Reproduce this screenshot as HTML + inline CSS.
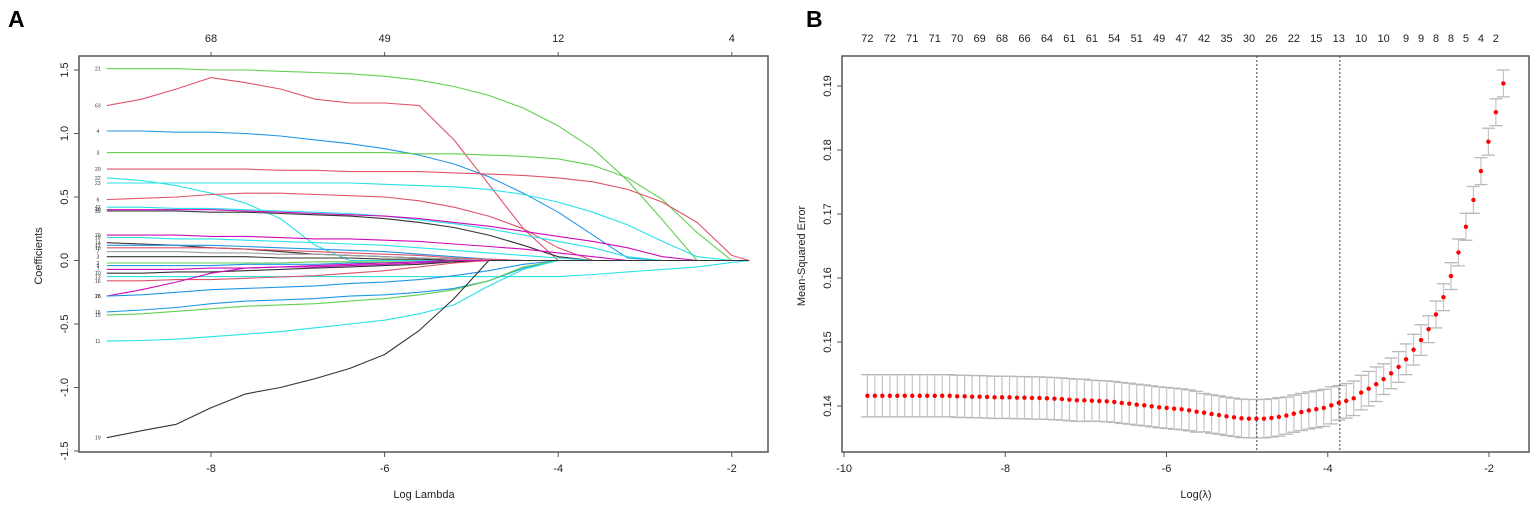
<!DOCTYPE html>
<html><head><meta charset="utf-8">
<style>
html,body{margin:0;padding:0;background:#fff;}
svg{display:block;font-family:"Liberation Sans",Arial,sans-serif;}
</style></head>
<body>
<svg id="fig" width="1535" height="507" viewBox="0 0 1535 507" xmlns="http://www.w3.org/2000/svg">
<text x="8" y="27" font-size="23" font-weight="bold">A</text>
<text x="806" y="27" font-size="23" font-weight="bold">B</text>
<g id="pa"></g>
<g id="pb"></g>
</svg>
<script>
// ===== Panel A data =====
const gridA = [-9.2,-8.8,-8.4,-8,-7.6,-7.2,-6.8,-6.4,-6,-5.6,-5.2,-4.8,-4.4,-4,-3.6,-3.2,-2.8,-2.4,-2,-1.8];
const colorsA = ['#61D04F','#DF536B','#2297E6','#61D04F','#DF536B','#28E2E5','#28E2E5','#DF536B','#28E2E5','#333333','#CD0BBC','#CD0BBC','#28E2E5','#333333','#2297E6','#DF536B','#9E9E9E','#333333','#61D04F','#2297E6','#CD0BBC','#333333','#28E2E5','#DF536B','#CD0BBC','#2297E6','#2297E6','#61D04F','#28E2E5','#333333'];
const labelsA = ['21','63','4','3','20','23','22','6','42','39','40','20','18','14','12','10','7','3','2','4','7','10','13','16','16','28','16','15','11','19'];
const s01=[1.51,1.51,1.51,1.50,1.50,1.49,1.48,1.47,1.45,1.42,1.37,1.30,1.20,1.06,0.88,0.63,0.32,0,0,0];
const s02=[1.22,1.27,1.35,1.44,1.40,1.35,1.27,1.24,1.24,1.22,0.95,0.60,0.25,0,0,0,0,0,0,0];
const s03=[1.02,1.02,1.01,1.01,1.00,0.98,0.95,0.92,0.88,0.83,0.76,0.66,0.53,0.38,0.20,0.02,0,0,0,0];
const s04=[0.85,0.85,0.85,0.85,0.85,0.85,0.85,0.85,0.85,0.84,0.84,0.83,0.82,0.80,0.75,0.65,0.48,0.22,0,0];
const s05=[0.72,0.72,0.72,0.72,0.72,0.71,0.71,0.70,0.70,0.70,0.69,0.68,0.67,0.65,0.62,0.56,0.46,0.30,0.04,0];
const s06=[0.61,0.61,0.61,0.61,0.61,0.61,0.61,0.61,0.60,0.59,0.58,0.56,0.52,0.46,0.38,0.28,0.15,0.03,0,0];
const s07=[0.65,0.63,0.59,0.53,0.45,0.33,0.12,0,0,0,0,0,0,0,0,0,0,0,0,0];
const s08=[0.48,0.49,0.50,0.52,0.53,0.53,0.52,0.51,0.50,0.47,0.42,0.35,0.25,0.10,0,0,0,0,0,0];
const s09=[0.42,0.42,0.41,0.41,0.40,0.39,0.38,0.37,0.35,0.32,0.29,0.25,0.20,0.15,0.10,0.03,0,0,0,0];
const s10=[0.39,0.39,0.39,0.38,0.38,0.37,0.36,0.35,0.33,0.30,0.26,0.20,0.12,0.03,0,0,0,0,0,0];
const s11=[0.40,0.40,0.40,0.40,0.39,0.38,0.37,0.36,0.35,0.33,0.30,0.27,0.23,0.19,0.15,0.10,0.03,0,0,0];
const s12=[0.20,0.20,0.20,0.19,0.19,0.18,0.17,0.17,0.16,0.15,0.13,0.11,0.09,0.06,0.03,0,0,0,0,0];
const s13=[0.18,0.18,0.17,0.17,0.16,0.15,0.14,0.13,0.12,0.10,0.08,0.06,0.04,0.02,0,0,0,0,0,0];
const s14=[0.14,0.13,0.12,0.10,0.09,0.07,0.05,0.04,0.03,0.02,0.01,0,0,0,0,0,0,0,0,0];
const s15=[0.12,0.12,0.12,0.12,0.11,0.10,0.09,0.08,0.07,0.05,0.03,0.01,0,0,0,0,0,0,0,0];
const s16=[0.10,0.10,0.10,0.10,0.09,0.08,0.07,0.06,0.05,0.04,0.02,0.01,0,0,0,0,0,0,0,0];
const s17=[0.07,0.07,0.07,0.06,0.06,0.05,0.05,0.04,0.03,0.02,0.01,0,0,0,0,0,0,0,0,0];
const s18=[0.03,0.03,0.03,0.03,0.03,0.02,0.02,0.02,0.01,0.01,0,0,0,0,0,0,0,0,0,0];
const s19=[-0.02,-0.02,-0.02,-0.02,-0.02,-0.02,-0.01,-0.01,-0.01,-0.01,0,0,0,0,0,0,0,0,0,0];
const s20=[-0.04,-0.04,-0.04,-0.04,-0.03,-0.03,-0.03,-0.02,-0.02,-0.01,-0.01,0,0,0,0,0,0,0,0,0];
const s21=[-0.07,-0.07,-0.07,-0.06,-0.06,-0.05,-0.05,-0.04,-0.03,-0.02,-0.01,0,0,0,0,0,0,0,0,0];
const s22=[-0.10,-0.10,-0.09,-0.09,-0.08,-0.07,-0.06,-0.05,-0.04,-0.03,-0.01,0,0,0,0,0,0,0,0,0];
const s23=[-0.127,-0.127,-0.127,-0.127,-0.127,-0.127,-0.127,-0.127,-0.127,-0.127,-0.127,-0.127,-0.127,-0.127,-0.11,-0.09,-0.07,-0.05,-0.015,0];
const s24=[-0.16,-0.16,-0.15,-0.15,-0.14,-0.13,-0.12,-0.10,-0.08,-0.05,-0.02,0,0,0,0,0,0,0,0,0];
const s25=[-0.28,-0.23,-0.17,-0.10,-0.06,-0.05,-0.04,-0.03,-0.02,-0.01,0,0,0,0,0,0,0,0,0,0];
const s26=[-0.28,-0.27,-0.25,-0.23,-0.22,-0.21,-0.20,-0.18,-0.17,-0.15,-0.12,-0.08,-0.03,0,0,0,0,0,0,0];
const s27=[-0.405,-0.39,-0.37,-0.34,-0.32,-0.31,-0.30,-0.28,-0.27,-0.25,-0.22,-0.16,-0.06,0,0,0,0,0,0,0];
const s28=[-0.43,-0.42,-0.40,-0.38,-0.36,-0.35,-0.34,-0.32,-0.30,-0.27,-0.23,-0.16,-0.05,0,0,0,0,0,0,0];
const s29=[-0.635,-0.63,-0.62,-0.60,-0.58,-0.56,-0.53,-0.50,-0.47,-0.42,-0.35,-0.20,-0.07,0,0,0,0,0,0,0];
const s30=[-1.395,-1.34,-1.29,-1.16,-1.05,-1.00,-0.93,-0.85,-0.74,-0.55,-0.30,0,0,0,0,0,0,0,0,0];
const seriesA=[s01,s02,s03,s04,s05,s06,s07,s08,s09,s10,s11,s12,s13,s14,s15,s16,s17,s18,s19,s20,s21,s22,s23,s24,s25,s26,s27,s28,s29,s30];
const xTicksA=[-8,-6,-4,-2];
const yTicksA=[-1.5,-1.0,-0.5,0.0,0.5,1.0,1.5];
const topTickValsA=[-8,-6,-4,-2];
const topLabelsA=['68','49','12','4'];

// ===== Panel B data =====
const mseB=[0.1416,0.1416,0.1416,0.1416,0.1416,0.1416,0.1416,0.1416,0.1416,0.1416,0.1416,0.1416,
0.14151,0.14151,0.14146,0.14146,0.14141,0.14135,0.14135,0.14135,0.14130,0.14130,0.14125,0.14125,0.14120,0.14115,0.14109,0.14099,0.14089,0.14089,
0.14083,0.14078,0.14073,0.14063,0.14047,0.14036,0.14021,0.14010,0.13995,0.13979,0.13969,0.13958,0.13948,0.13932,0.13911,0.13896,0.13875,0.13859,
0.13839,0.13823,0.13807,0.13802,0.13802,0.13802,0.13813,0.13830,0.13850,0.13880,0.13906,0.1393,0.1395,0.1397,0.1401,0.1405,0.1408,0.1412,
0.1421,0.1427,0.1434,0.1442,0.1451,0.1461,0.1473,0.1488,0.1503,0.1520,0.1543,0.1570,0.1603,0.1640,0.1680,0.1722,0.1767,0.1813,0.1859,0.1904];
const seB=[0.0033,0.0033,0.0033,0.0033,0.0033,0.0033,0.0033,0.0033,0.0033,0.0033,0.0033,0.0033,0.0033,0.0033,0.0033,
0.0033,0.0033,0.0033,0.0033,0.0033,0.0033,0.0033,0.0033,0.0033,0.0033,0.0033,0.0033,0.0033,0.0033,0.0033,
0.0032,0.0032,0.0032,0.0032,0.0032,0.0032,0.0032,0.0032,0.0032,0.0032,0.0032,0.0032,0.0032,0.0032,0.0032,
0.0030,0.0030,0.0030,0.0030,0.0030,0.0030,0.0030,0.0030,0.0030,0.0030,0.0030,
0.0029,0.0029,0.0029,0.0029,0.0029,0.0029,0.0029,
0.0027,0.0027,0.0027,0.0027,0.0027,0.0027,
0.0024,0.0024,0.0024,0.0024,0.0024,0.0024,
0.0021,0.0021,0.0021,0.0021,0.0021,0.0021,0.0021,0.0021,0.0021,0.0021,0.0021];
const lambdaStartB=-9.71, lambdaStepB=0.0928;
const topLabelsB=['72','72','71','71','70','69','68','66','64','61','61','54','51','49','47','42','35','30','26','22','15','13','10','10','9','9','8','8','5','4','2'];
const topLabelIdxB=[0,3,6,9,12,15,18,21,24,27,30,33,36,39,42,45,48,51,54,57,60,63,66,69,72,74,76,78,80,82,84];
const xTicksB=[-10,-8,-6,-4,-2];
const yTicksB=[0.14,0.15,0.16,0.17,0.18,0.19];
const yTickLabelsB=['0.14','0.15','0.16','0.17','0.18','0.19'];
const lambdaMinB=-4.88, lambda1seB=-3.85;

const NS='http://www.w3.org/2000/svg';
function mk(parent,tag,attrs){const e=document.createElementNS(NS,tag);for(const k in attrs)e.setAttribute(k,attrs[k]);parent.appendChild(e);return e;}

// ---------- Panel A ----------
(function(){
const g=document.getElementById('pa');
const L=79,R=768,T=56,B=452;
const xA=v=>211+(v+8)*86.8;
const yA=c=>260.5-127*c;
const clip=mk(g,'clipPath',{id:'clipA'});
mk(clip,'rect',{x:L,y:T,width:R-L,height:B-T});
const lines=mk(g,'g',{'clip-path':'url(#clipA)'});


seriesA.forEach((s,i)=>{
  const vals=s.slice();
  while(vals.length<gridA.length) vals.push(0);
  const pts=vals.map((v,j)=>xA(gridA[j]).toFixed(1)+','+yA(v).toFixed(1)).join(' ');
  const p=mk(lines,'polyline',{points:pts,fill:'none',stroke:colorsA[i],'stroke-width':1.1,'stroke-linejoin':'round'});
  
  
  const t=mk(g,'text',{x:xA(gridA[0])-9,y:yA(vals[0])+2,'font-size':5,'text-anchor':'middle',fill:'#333'});
  t.textContent=labelsA[i];
  
  
});
const box=mk(g,'rect',{x:L,y:T,width:R-L,height:B-T,fill:'none',stroke:'#555','stroke-width':1.5});


xTicksA.forEach(v=>{
  mk(g,'line',{x1:xA(v),x2:xA(v),y1:B,y2:B+5,stroke:'#555'});
  const t=mk(g,'text',{x:xA(v),y:B+20,'font-size':11,'text-anchor':'middle',fill:'#222'});
  t.textContent=String(v);
  
  
});
yTicksA.forEach(v=>{
  mk(g,'line',{x1:L-5,x2:L,y1:yA(v),y2:yA(v),stroke:'#555'});
  const t=mk(g,'text',{x:0,y:0,'font-size':11,'text-anchor':'middle',fill:'#222',transform:`translate(${L-11},${yA(v)}) rotate(-90)`});
  t.textContent=v.toFixed(1);
  
  
});
topTickValsA.forEach((v,i)=>{
  mk(g,'line',{x1:xA(v),x2:xA(v),y1:T,y2:T-4,stroke:'#555'});
  const t=mk(g,'text',{x:xA(v),y:T-14,'font-size':11,'text-anchor':'middle',fill:'#222'});
  t.textContent=topLabelsA[i];
  
  
});
const xt=mk(g,'text',{x:424,y:498,'font-size':11,'text-anchor':'middle',fill:'#222'});
xt.textContent='Log Lambda';


const yt=mk(g,'text',{x:0,y:0,'font-size':11,'text-anchor':'middle',fill:'#222',transform:'translate(42,256) rotate(-90)'});
yt.textContent='Coefficients';


})();

// ---------- Panel B ----------
(function(){
const g=document.getElementById('pb');
const L=842,R=1529,T=56,B=452;
const xB=v=>844+(v+10)*80.625;
const yB=m=>406-(m-0.14)*6400;
const lam=mseB.map((_,i)=>lambdaStartB+i*lambdaStepB);
const bars=mk(g,'g',{});


mseB.forEach((m,i)=>{
  const x=xB(lam[i]), yu=yB(m+seB[i]), yl=yB(m-seB[i]);
  mk(bars,'line',{x1:x,x2:x,y1:yu,y2:yl,stroke:'#c4c4c4','stroke-width':1.2});
  mk(bars,'line',{x1:x-6.5,x2:x+6.5,y1:yu,y2:yu,stroke:'#b8b8b8','stroke-width':1.3});
  mk(bars,'line',{x1:x-6.5,x2:x+6.5,y1:yl,y2:yl,stroke:'#b8b8b8','stroke-width':1.3});
});
[lambdaMinB,lambda1seB].forEach((v,i)=>{
  const l=mk(g,'line',{x1:xB(v),x2:xB(v),y1:T,y2:B,stroke:'#444','stroke-width':1,'stroke-dasharray':'2,2'});
  
  
});
mseB.forEach((m,i)=>{
  const c=mk(g,'circle',{cx:xB(lam[i]),cy:yB(m),r:2.2,fill:'#ff0000'});
  
  
});
const box=mk(g,'rect',{x:L,y:T,width:R-L,height:B-T,fill:'none',stroke:'#555','stroke-width':1.5});


xTicksB.forEach(v=>{
  mk(g,'line',{x1:xB(v),x2:xB(v),y1:B,y2:B+5,stroke:'#555'});
  const t=mk(g,'text',{x:xB(v),y:B+20,'font-size':11,'text-anchor':'middle',fill:'#222'});
  t.textContent=String(v);
  
  
});
yTicksB.forEach((v,i)=>{
  mk(g,'line',{x1:L-5,x2:L,y1:yB(v),y2:yB(v),stroke:'#555'});
  const t=mk(g,'text',{x:0,y:0,'font-size':11,'text-anchor':'middle',fill:'#222',transform:`translate(${L-11},${yB(v)}) rotate(-90)`});
  t.textContent=yTickLabelsB[i];
  
  
});
topLabelsB.forEach((s,i)=>{
  const t=mk(g,'text',{x:xB(lam[topLabelIdxB[i]]),y:42,'font-size':11,'text-anchor':'middle',fill:'#222'});
  t.textContent=s;
  
  
});
const xt=mk(g,'text',{x:1196,y:498,'font-size':11,'text-anchor':'middle',fill:'#222'});
xt.textContent='Log(λ)';


const yt=mk(g,'text',{x:0,y:0,'font-size':11,'text-anchor':'middle',fill:'#222',transform:'translate(805,256) rotate(-90)'});
yt.textContent='Mean-Squared Error';


})();
</script>
</body></html>
